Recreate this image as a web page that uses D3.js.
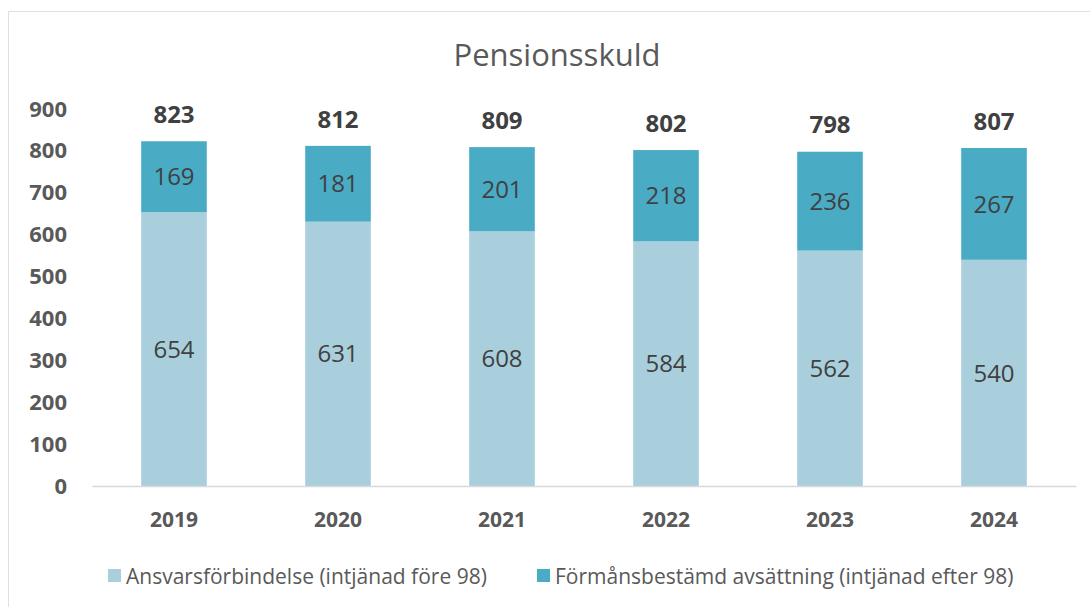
<!DOCTYPE html>
<html>
<head>
<meta charset="utf-8">
<script src="https://cdn.jsdelivr.net/npm/d3@7"></script>
<style>
  body { margin: 0; background: #fff; }
  svg { display: block; font-family: "Open Sans", sans-serif; }
</style>
</head>
<body>
<svg id="chart" width="1090" height="607"></svg>
<script>
// data
let years = ["2019", "2020", "2021", "2022", "2023", "2024"];
let ansvar = [654, 631, 608, 584, 562, 540];
let formans = [169, 181, 201, 218, 236, 267];
let totals = [823, 812, 809, 802, 798, 807];
let yTicks = [0, 100, 200, 300, 400, 500, 600, 700, 800, 900];
let seriesNames = ["Ansvarsförbindelse (intjänad före 98)", "Förmånsbestämd avsättning (intjänad efter 98)"];
let seriesColors = ["#a9cfdc", "#4aabc5"];

let svg = d3.select('#chart');

// chart frame
svg.append("rect")
    .attr("x", 8.5).attr("y", 11.5)
    .attr("width", 1100).attr("height", 620)
    .attr("fill", "none")
    .attr("stroke", "#d9e1ef");

svg.append("text")
    .attr("x", 557).attr("y", 66)
    .attr("text-anchor", "middle")
    .attr("font-size", "31px")
    .attr("fill", "#595959")
    .text("Pensionsskuld");

let x = d3.scaleBand().domain(years).range([92, 1076]).paddingInner(0.6).paddingOuter(0.3);
let y = d3.scaleLinear().domain([0, 900]).range([486, 109]);

let rows = years.map((yr, i) => ({year: yr, ansvar: ansvar[i], formans: formans[i], total: totals[i]}));
let stack = d3.stack().keys(["ansvar", "formans"]);
let layers = stack(rows);

// y axis labels only
let yAxis = d3.axisLeft(y).tickValues(yTicks).tickSize(0).tickPadding(0);
let gy = svg.append("g").attr("transform", "translate(67,0)").call(yAxis);
gy.select(".domain").remove();
gy.selectAll("text")
    .attr("font-family", "Open Sans, sans-serif")
    .attr("font-size", "22px")
    .attr("font-weight", "bold")
    .attr("fill", "#595959");

// bars
let g = svg.append("g");
layers.forEach((layer, li) => {
    g.selectAll(".bar" + li).data(layer).enter()
        .append("rect")
        .attr("x", d => x(d.data.year))
        .attr("y", d => y(d[1]))
        .attr("width", x.bandwidth())
        .attr("height", d => y(d[0]) - y(d[1]))
        .attr("fill", seriesColors[li]);

    g.selectAll(".lbl" + li).data(layer).enter()
        .append("text")
        .attr("x", d => x(d.data.year) + x.bandwidth() / 2)
        .attr("y", d => (y(d[0]) + y(d[1])) / 2)
        .attr("dy", "0.36em")
        .attr("text-anchor", "middle")
        .attr("font-size", "24px")
        .attr("fill", "#404040")
        .text(d => d[1] - d[0]);
});

// totals above bars
g.selectAll(".tot").data(rows).enter()
    .append("text")
    .attr("x", d => x(d.year) + x.bandwidth() / 2)
    .attr("y", d => y(d.total) - 27)
    .attr("dy", "0.36em")
    .attr("text-anchor", "middle")
    .attr("font-size", "24px")
    .attr("font-weight", "bold")
    .attr("fill", "#404040")
    .text(d => d.total);

// x axis
let xAxis = d3.axisBottom(x).tickSize(0);
let gx = svg.append("g").attr("transform", "translate(0," + y(0) + ")").call(xAxis);
gx.select(".domain").attr("stroke", "#d9d9d9").attr("stroke-width", 1.5);
gx.selectAll("text")
    .attr("y", 33)
    .attr("dy", "0.36em")
    .attr("font-family", "Open Sans, sans-serif")
    .attr("font-size", "21px")
    .attr("font-weight", "bold")
    .attr("fill", "#595959");

// legend
let legendX = [108, 537];
seriesNames.forEach((name, i) => {
    svg.append("rect")
        .attr("x", legendX[i]).attr("y", 569)
        .attr("width", 13).attr("height", 13)
        .attr("fill", seriesColors[i]);
    svg.append("text")
        .attr("x", legendX[i] + 18).attr("y", 576)
        .attr("dy", "0.36em")
        .attr("font-size", "21px")
        .attr("fill", "#595959")
        .text(name);
});
</script>
</body>
</html>
